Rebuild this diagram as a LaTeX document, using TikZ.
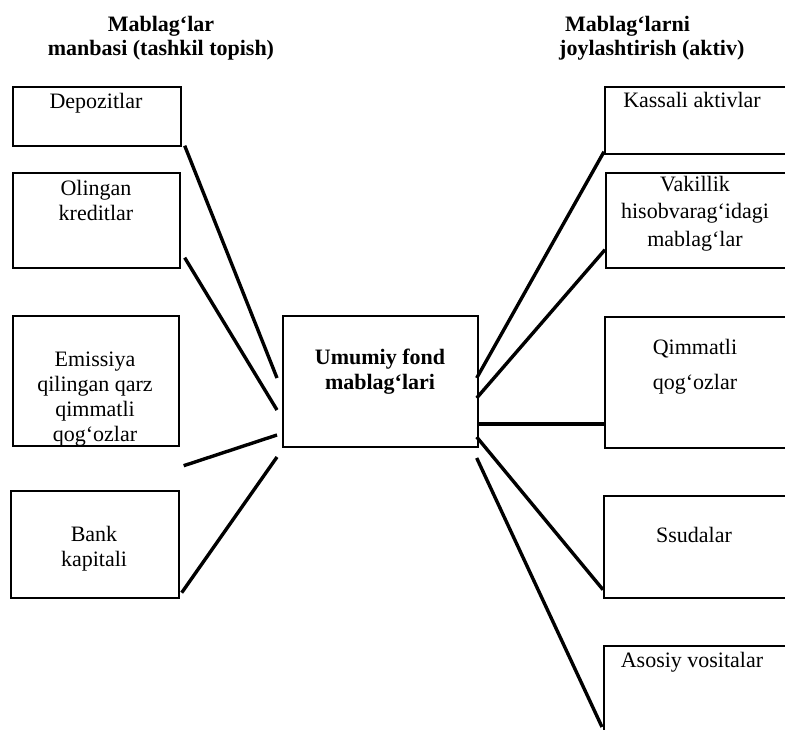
\documentclass[tikz,border=0pt]{standalone}
\usepackage{fontspec}
\setmainfont{Liberation Serif}
\usetikzlibrary{calc}
\tikzset{
  box/.style={draw, line width=1.7pt, rectangle, inner sep=0pt, anchor=north west},
  txt/.style={inner sep=0pt, anchor=north, align=center, font=\fontsize{22}{25}\selectfont},
  ttl/.style={inner sep=0pt, anchor=north, align=center, font=\bfseries\fontsize{22}{24}\selectfont},
  conn/.style={line width=3.4pt}
}
\begin{document}
\begin{tikzpicture}[x=1pt,y=-1pt]
\useasboundingbox (0,0) rectangle (785,730);
\clip (0,0) rectangle (785,730);
% titles
\node[ttl] (tl) at (161,16) {Mablag‘lar\\manbasi (tashkil topish)};
\node[ttl, anchor=north west, align=left] (tr) at (559,16) {\hspace*{6pt}Mablag‘larni\\joylashtirish (aktiv)};
% left boxes
\node[box, minimum width=168pt, minimum height=59pt] (dep) at (12,86) {};
\node[txt] (depT) at (96,93) {Depozitlar};
\node[box, minimum width=167pt, minimum height=95pt] (oli) at (12,172) {};
\node[txt] (oliT) at (96,180) {Olingan\\kreditlar};
\node[box, minimum width=166pt, minimum height=130pt] (emi) at (12,315) {};
\node[txt] (emiT) at (95,352) {Emissiya\\qilingan qarz\\qimmatli\\qog‘ozlar};
\node[box, minimum width=168pt, minimum height=107pt] (bank) at (10,490) {};
\node[txt] (bankT) at (94,526) {Bank\\kapitali};
% center
\node[box, minimum width=195pt, minimum height=131pt] (cen) at (282,315) {};
\node[txt, font=\bfseries\fontsize{22}{25}\selectfont] (cenT) at (380,349) {Umumiy fond\\mablag‘lari};
% right boxes
\node[box, minimum width=182pt, minimum height=67pt] (kas) at (604,86) {};
\node[txt] (kasT) at (692,92) {Kassali aktivlar};
\node[box, minimum width=181pt, minimum height=95pt] (vak) at (605,172) {};
\node[txt, font=\fontsize{22}{27.5}\selectfont] (vakT) at (695,176) {Vakillik\\hisobvarag‘idagi\\mablag‘lar};
\node[box, minimum width=182pt, minimum height=131pt] (qim) at (604,316) {};
\node[txt] (qimT) at (695,339) {Qimmatli\\[10pt]qog‘ozlar};
\node[box, minimum width=183pt, minimum height=102pt] (ssu) at (603,495) {};
\node[txt] (ssuT) at (694,527) {Ssudalar};
\node[box, minimum width=183pt, minimum height=95pt] (aso) at (603,645) {};
\node[txt] (asoT) at (692,652) {Asosiy vositalar};
% connectors left
\draw[conn] ($(dep.south east)+(3,-1)$) -- ($(cen.north west)+(-5,63)$);
\draw[conn] ($(oli.south east)+(4,-11)$) -- ($(cen.north west)+(-5,95)$);
\draw[conn] ($(emi.south east)+(4,19)$) -- ($(cen.north west)+(-5,120)$);
\draw[conn] ($(bank.south east)+(2,-6)$) -- ($(cen.north west)+(-5,142)$);
% connectors right
\draw[conn] ($(kas.south west)+(0,-3)$) -- ($(cen.north east)+(-2,63)$);
\draw[conn] ($(vak.south west)+(0,-19)$) -- ($(cen.north east)+(-2,83)$);
\draw[conn] ($(cen.north east)+(0,109)$) -- ($(qim.north west)+(0,108)$);
\draw[conn] ($(cen.north east)+(-2,122)$) -- ($(ssu.south west)+(0,-9)$);
\draw[conn] ($(cen.north east)+(-2,143)$) -- ($(aso.north west)+(-1,82)$);
\end{tikzpicture}
\end{document}
